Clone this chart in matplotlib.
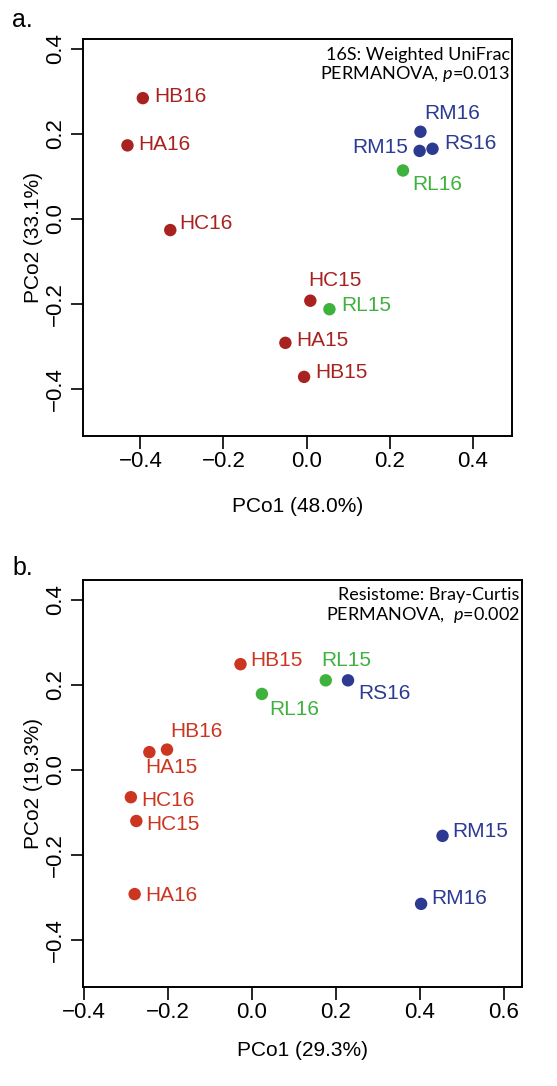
import matplotlib
matplotlib.use("Agg")
import matplotlib.pyplot as plt

plt.rcParams['font.family'] = ['Liberation Sans', 'DejaVu Sans']
plt.rcParams['mathtext.fontset'] = 'custom'
plt.rcParams['mathtext.rm'] = 'Lato'
plt.rcParams['mathtext.it'] = 'Lato:italic'

RED_A = '#A8221F'
RED_B = '#CC3520'
GREEN = '#3DB23D'
BLUE = '#2C3A92'

# panel a: 16S weighted UniFrac
a_names = ['HB16', 'HA16', 'HC16', 'HC15', 'RL15', 'HA15', 'HB15',
           'RM16', 'RM15', 'RS16', 'RL16']
a_pc1 = [-0.394, -0.431, -0.328, 0.009, 0.055, -0.051, -0.006,
         0.274, 0.272, 0.303, 0.232]
a_pc2 = [0.284, 0.173, -0.026, -0.192, -0.212, -0.291, -0.371,
         0.205, 0.160, 0.165, 0.114]
a_group = ['H', 'H', 'H', 'H', 'RL', 'H', 'H', 'R', 'R', 'R', 'RL']

# panel b: resistome Bray-Curtis
b_names = ['HB15', 'RL15', 'RS16', 'RL16', 'HB16', 'HA15', 'HC16',
           'HC15', 'HA16', 'RM15', 'RM16']
b_pc1 = [-0.027, 0.176, 0.229, 0.024, -0.202, -0.244, -0.288,
         -0.275, -0.279, 0.454, 0.403]
b_pc2 = [0.249, 0.211, 0.211, 0.179, 0.048, 0.042, -0.064,
         -0.120, -0.292, -0.155, -0.315]
b_group = ['H', 'RL', 'R', 'RL', 'H', 'H', 'H', 'H', 'H', 'R', 'R']

ticks_y = [-0.4, -0.2, 0.0, 0.2, 0.4]
ticks_xa = [-0.4, -0.2, 0.0, 0.2, 0.4]
ticks_xb = [-0.4, -0.2, 0.0, 0.2, 0.4, 0.6]

# label placement (offset in pixels, horizontal alignment)
a_place = {
    'HB16': (11, 2, 'left'), 'HA16': (11, 1, 'left'), 'HC16': (9, 7, 'left'),
    'HC15': (25, 20, 'center'), 'RL15': (12, 4, 'left'), 'HA15': (11, 2, 'left'),
    'HB15': (11, 4, 'left'), 'RM16': (4, 18, 'left'), 'RM15': (-11, 3, 'right'),
    'RS16': (12, 5, 'left'), 'RL16': (9, -14, 'left'),
}
b_place = {
    'HB15': (10, 4, 'left'), 'RL15': (20, 20, 'center'), 'RS16': (10, -13, 'left'),
    'RL16': (7, -16, 'left'), 'HB16': (3, 18, 'left'), 'HA15': (-4, -15, 'left'),
    'HC16': (10, -3, 'left'), 'HC15': (10, -4, 'left'), 'HA16': (11, -1, 'left'),
    'RM15': (10, 4, 'left'), 'RM16': (10, 5, 'left'),
}


def fmt(t):
    return ('%.1f' % t).replace('-', '\u2212')


def pcoa_panel(ax, x, y, names, groups, place, red, xlim, ylim, xticks,
               xlabel, ylabel, line1, line2, ytxt, xpad):
    cmap = {'H': red, 'RL': GREEN, 'R': BLUE}
    cols = [cmap[g] for g in groups]
    ax.scatter(x, y, s=80, c=cols, linewidths=0, zorder=3)
    for xi, yi, n, c in zip(x, y, names, cols):
        dx, dy, ha = place[n]
        ax.annotate(n, (xi, yi), xytext=(dx, dy), textcoords='offset pixels',
                    ha=ha, va='center', color=c, fontsize=15)
    ax.set_xlim(xlim)
    ax.set_ylim(ylim)
    ax.set_xticks(xticks)
    ax.set_yticks(ticks_y)
    ax.set_xticklabels([fmt(t) for t in xticks])
    ax.set_yticklabels([fmt(t) for t in ticks_y], rotation=90, va='center')
    ax.tick_params(direction='out', length=9, width=1.2, labelsize=16)
    ax.tick_params(axis='x', pad=2)
    ax.tick_params(axis='y', pad=3)
    for sp in ax.spines.values():
        sp.set_linewidth(1.4)
    ax.set_xlabel(xlabel, fontsize=15, labelpad=xpad)
    ax.set_ylabel(ylabel, fontsize=15, labelpad=2)
    ax.text(0.995, ytxt[0], line1, transform=ax.transAxes, ha='right',
            va='center', fontsize=13, family='Lato')
    ax.text(0.995, ytxt[1], line2, transform=ax.transAxes, ha='right',
            va='center', fontsize=13, family='Lato')


fig = plt.figure(figsize=(5.57, 10.86), dpi=100)
ax_a = fig.add_axes([0.149, 0.5985, 0.770, 0.3656])
ax_b = fig.add_axes([0.149, 0.0914, 0.788, 0.3745])

pcoa_panel(ax_a, a_pc1, a_pc2, a_names, a_group, a_place, RED_A,
           (-0.538, 0.494), (-0.510, 0.423), ticks_xa,
           'PCo1 (48.0%)', 'PCo2 (33.1%)',
           '16S: Weighted UniFrac', r'PERMANOVA, $p$=0.013', (0.960, 0.911), 17.5)
pcoa_panel(ax_b, b_pc1, b_pc2, b_names, b_group, b_place, RED_B,
           (-0.402, 0.643), (-0.510, 0.447), ticks_xb,
           'PCo1 (29.3%)', 'PCo2 (19.3%)',
           'Resistome: Bray-Curtis', r'PERMANOVA,  $p$=0.002', (0.962, 0.914), 13)

fig.text(12 / 557, 1 - 8 / 1086, 'a.', fontsize=18, va='top', ha='left')
fig.text(12 / 557, 1 - 556 / 1086, 'b.', fontsize=18, va='top', ha='left')

fig.savefig('out.png', dpi=100)
